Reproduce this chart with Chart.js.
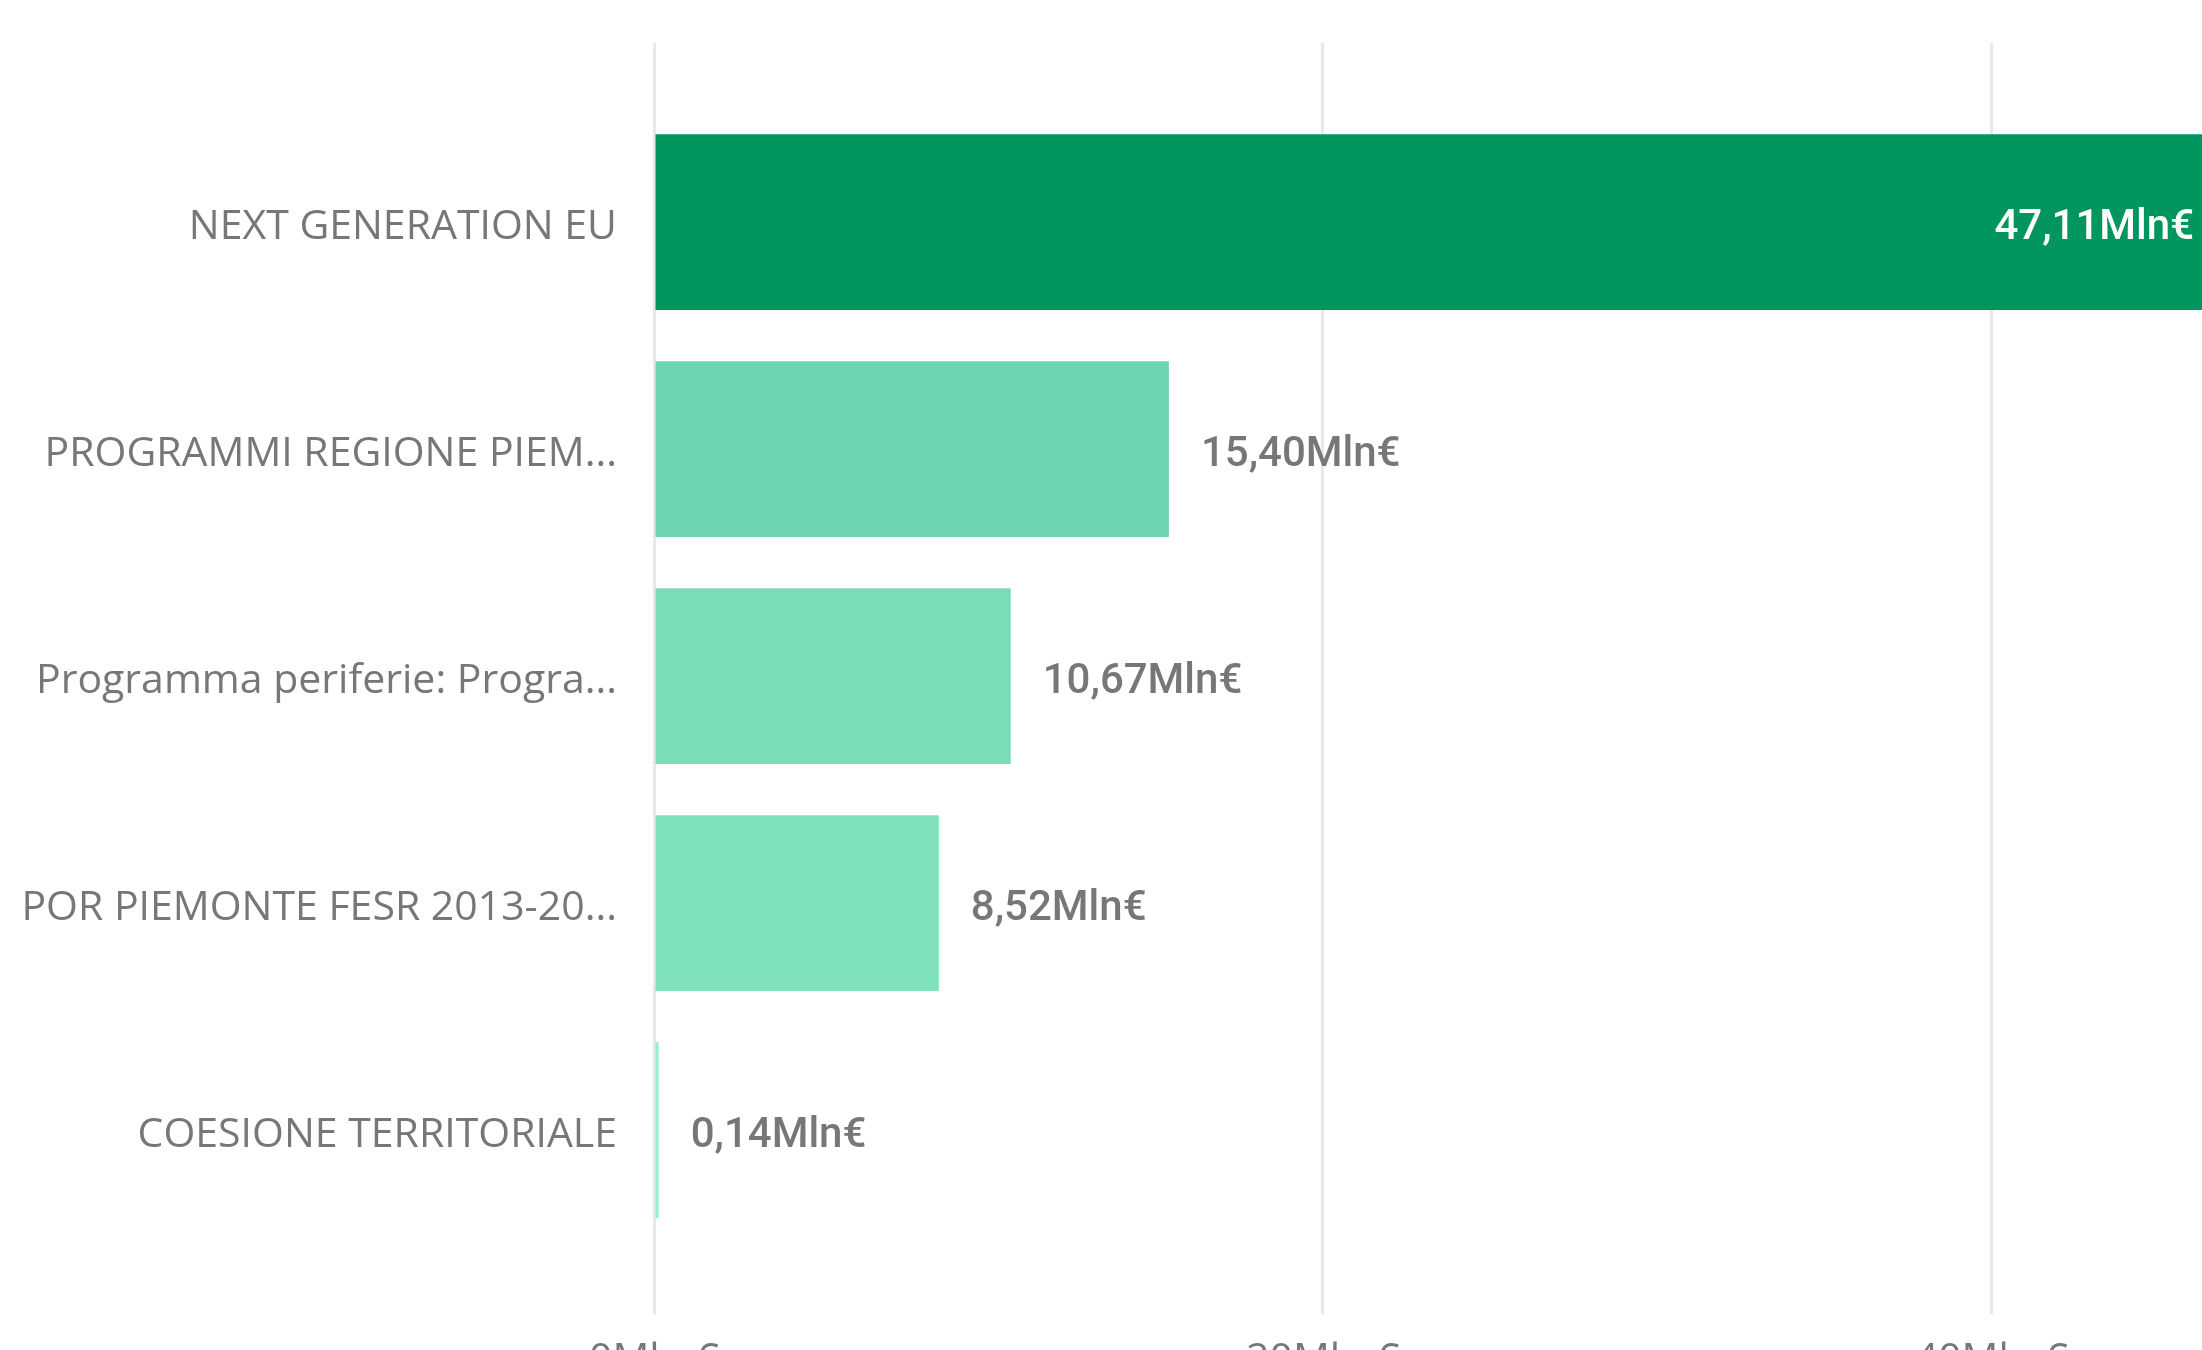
<!DOCTYPE html>
<html>
<head>
<meta charset="utf-8">
<script src="https://cdn.jsdelivr.net/npm/chart.js@4.4.1/dist/chart.umd.min.js"></script>
<style>
  html, body { margin: 0; padding: 0; background: #fff; overflow: hidden; }
  #wrap { width: 2202px; height: 1400px; position: relative; }
</style>
</head>
<body>
<div id="wrap"><canvas id="barChart"></canvas></div>
<script>
// dati
const categories = [
  "NEXT GENERATION EU",
  "PROGRAMMI REGIONE PIEM...",
  "Programma periferie: Progra...",
  "POR PIEMONTE FESR 2013-20...",
  "COESIONE TERRITORIALE",
];
const amounts = [47.11, 15.40, 10.67, 8.52, 0.14];
const xTicks = [0, 20, 40];

const barColors = ["#00965E", "#6CD4AE", "#7ADDB6", "#80E2BD", "#98EFD3"];

const labelFont = "'Open Sans', sans-serif";
const valueFont = "Roboto, sans-serif";

// etichette dei valori: fuori dalla barra, dentro se non c'è spazio
const valueLabels = {
  id: "valueLabels",
  afterDatasetsDraw(chart) {
    const { ctx, chartArea } = chart;
    const meta = chart.getDatasetMeta(0);
    ctx.save();
    ctx.font = "500 42px " + valueFont;
    ctx.textBaseline = "middle";
    meta.data.forEach((bar, i) => {
      const text = amounts[i].toFixed(2).replace(".", ",") + "Mln€";
      const w = ctx.measureText(text).width;
      const end = Math.min(bar.x, chartArea.right);
      if (end + 32 + w > chartArea.right) {
        ctx.fillStyle = "#ffffff";
        ctx.textAlign = "right";
        ctx.fillText(text, end - 8, bar.y + 6);
      } else {
        ctx.fillStyle = "#777777";
        ctx.textAlign = "left";
        ctx.fillText(text, end + 32, bar.y + 6);
      }
    });
    ctx.restore();
  },
};

const ctx = document.getElementById("barChart");

new Chart(ctx, {
  type: "bar",
  data: {
    datasets: [
      {
        data: amounts.map((v, i) => ({ x: v, y: i })),
        backgroundColor: barColors,
        barPercentage: 0.775,
        categoryPercentage: 1,
      },
    ],
  },
  options: {
    indexAxis: "y",
    responsive: true,
    maintainAspectRatio: false,
    animation: false,
    layout: { padding: { top: 43, right: 0, left: 0, bottom: 0 } },
    plugins: {
      legend: { display: false },
      tooltip: { enabled: false },
    },
    scales: {
      x: {
        type: "linear",
        min: 0,
        max: 46.3,
        border: { display: false },
        grid: { color: "#e8e8e8", lineWidth: 3, drawTicks: false },
        afterBuildTicks: (scale) => {
          scale.ticks = xTicks.map((v) => ({ value: v }));
        },
        afterFit: (scale) => {
          scale.height = 86;
        },
        ticks: {
          padding: 22,
          color: "#777777",
          font: { family: labelFont, size: 41 },
          callback: (v) => v + "Mln €",
        },
      },
      y: {
        type: "linear",
        reverse: true,
        offset: false,
        min: -0.789,
        max: 4.81,
        border: { display: false },
        grid: { display: false },
        afterBuildTicks: (scale) => {
          scale.ticks = categories.map((c, i) => ({ value: i }));
        },
        afterFit: (scale) => {
          scale.width = 654;
          scale.paddingTop = 0;
          scale.paddingBottom = 0;
        },
        ticks: {
          padding: 29,
          labelOffset: 5,
          color: "#777777",
          font: { family: labelFont, size: 41 },
          callback: (v) => categories[v],
        },
      },
    },
  },
  plugins: [valueLabels],
});
</script>
</body>
</html>
